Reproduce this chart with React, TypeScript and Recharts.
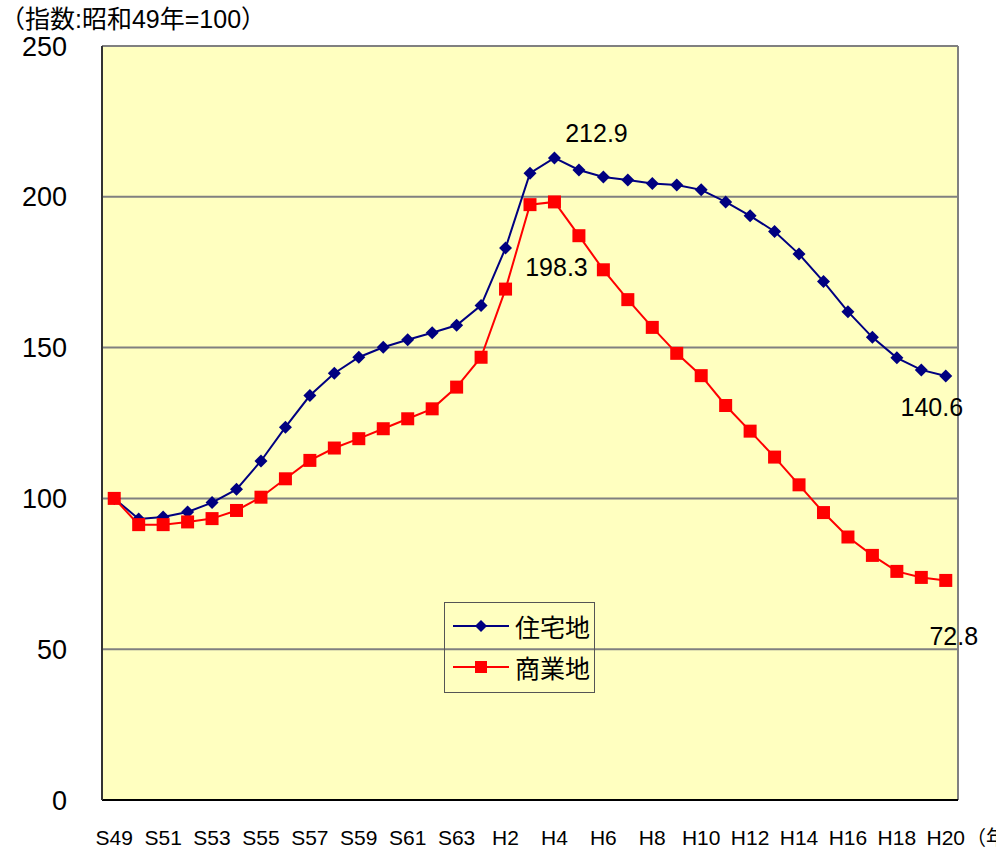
import React from "react";
import {
  CartesianGrid,
  Legend,
  Line,
  LineChart,
  ReferenceLine,
  XAxis,
  YAxis,
} from "recharts";

// 年次（昭和49年〜平成20年）
const years = [
  "S49", "S50", "S51", "S52", "S53", "S54", "S55", "S56", "S57", "S58",
  "S59", "S60", "S61", "S62", "S63", "H1", "H2", "H3", "H4", "H5",
  "H6", "H7", "H8", "H9", "H10", "H11", "H12", "H13", "H14", "H15",
  "H16", "H17", "H18", "H19", "H20",
];

// 住宅地
const residential = [
  100, 93.2, 93.8, 95.5, 98.6, 103.0, 112.4, 123.6, 134.1, 141.5,
  146.8, 150.1, 152.6, 154.9, 157.4, 164.0, 183.0, 207.8, 212.9, 208.9,
  206.6, 205.6, 204.4, 203.9, 202.3, 198.3, 193.7, 188.5, 181.0, 171.9,
  161.9, 153.4, 146.6, 142.6, 140.6,
];

// 商業地
const commercial = [
  100, 91.3, 91.3, 92.2, 93.3, 96.0, 100.4, 106.5, 112.6, 116.7,
  119.8, 123.1, 126.4, 129.7, 136.9, 146.8, 169.4, 197.4, 198.3, 187.1,
  175.8, 165.9, 156.7, 148.1, 140.7, 130.8, 122.3, 113.7, 104.5, 95.3,
  87.2, 81.1, 75.8, 73.8, 72.8,
];

const yTicks = [0, 50, 100, 150, 200, 250];

const data = years.map((year, i) => ({
  i,
  year,
  residential: residential[i],
  commercial: commercial[i],
}));

// labels every other year, tick marks between categories
const labelTicks = years.map((_, i) => i).filter((i) => i % 2 === 0);
const boundaryTicks = years.slice(1).map((_, i) => i + 0.5);

const NAVY = "#000080";
const RED = "#FF0000";
const PLOT_BG = "#FFFFC0";
const GRID = "#808080";
const FONT = "'Liberation Sans', Arial, 'Noto Sans CJK JP', sans-serif";

// where the value callouts sit relative to their point
const CALLOUTS: Record<string, Record<number, [number, number]>> = {
  residential: { 18: [42, -25], 34: [-14, 31] },
  commercial: { 18: [2, 65], 34: [8, 56] },
};

const Diamond = (props: any) => {
  const { cx, cy, index } = props;
  if (cx == null || cy == null) return <g key={`d-${index}`} />;
  const r = 6.5;
  return (
    <path
      key={`d-${index}`}
      d={`M${cx},${cy - r}L${cx + r},${cy}L${cx},${cy + r}L${cx - r},${cy}Z`}
      fill={NAVY}
    />
  );
};

const Square = (props: any) => {
  const { cx, cy, index } = props;
  if (cx == null || cy == null) return <g key={`s-${index}`} />;
  const s = 6.5;
  return (
    <rect
      key={`s-${index}`}
      x={cx - s}
      y={cy - s}
      width={s * 2}
      height={s * 2}
      fill={RED}
    />
  );
};

const callout = (series: string) => (props: any) => {
  const { x, y, value, index } = props;
  const off = CALLOUTS[series][index];
  if (!off) return null;
  return (
    <text
      key={`${series}-lbl-${index}`}
      x={x + off[0]}
      y={y + off[1]}
      textAnchor="middle"
      dominantBaseline="central"
      fontSize={25}
      fontFamily={FONT}
      fill="#000"
    >
      {Number(value).toFixed(1)}
    </text>
  );
};

const EmptyTick = () => <g />;

const LegendBox = (props: any) => {
  const payload = props.payload || [];
  return (
    <div
      style={{
        border: "1px solid #555",
        width: 151,
        height: 91,
        boxSizing: "border-box",
        paddingTop: 2,
        fontFamily: FONT,
      }}
    >
      {payload.map((p: any) => (
        <div
          key={p.value}
          style={{ display: "flex", alignItems: "center", height: 41 }}
        >
          <svg width={66} height={20} style={{ marginLeft: 8 }}>
            <line x1={0} y1={10} x2={56} y2={10} stroke={p.color} strokeWidth={2} />
            {p.dataKey === "residential" ? (
              <path d="M28,4L34,10L28,16L22,10Z" fill={p.color} />
            ) : (
              <rect x={22} y={4} width={12} height={12} fill={p.color} />
            )}
          </svg>
          <span style={{ fontSize: 25, color: "#000", marginLeft: -4 }}>{p.value}</span>
        </div>
      ))}
    </div>
  );
};

export default function App() {
  return (
    <div
      style={{
        position: "absolute",
        left: 0,
        top: 0,
        width: 996,
        height: 849,
        background: "#fff",
        overflow: "hidden",
        fontFamily: FONT,
      }}
    >
      <div
        style={{
          position: "absolute",
          left: 0,
          top: 7,
          fontSize: 25,
          lineHeight: "25px",
          color: "#000",
          whiteSpace: "nowrap",
        }}
      >
        （指数:昭和49年=100）
      </div>
      <div
        style={{
          position: "absolute",
          left: 966,
          top: 822,
          fontSize: 20,
          color: "#000",
          whiteSpace: "nowrap",
        }}
      >
        （年）
      </div>
      <LineChart
        width={996}
        height={849}
        data={data}
        margin={{ top: 46, right: 38, bottom: 0, left: 0 }}
      >
        <CartesianGrid
          horizontal
          vertical={false}
          fill={PLOT_BG}
          stroke={GRID}
          strokeWidth={2}
          horizontalValues={yTicks}
        />
        <XAxis
          xAxisId="marks"
          dataKey="i"
          type="number"
          domain={[-0.5, years.length - 0.5]}
          ticks={boundaryTicks}
          orientation="bottom"
          mirror
          height={0}
          tick={<EmptyTick />}
          tickSize={5}
          tickLine={{ stroke: "#333", strokeWidth: 1 }}
          axisLine={false}
          allowDecimals
        />
        <XAxis
          xAxisId="main"
          dataKey="i"
          type="number"
          domain={[-0.5, years.length - 0.5]}
          ticks={labelTicks}
          tickFormatter={(v: number) => years[v]}
          interval={0}
          height={49}
          tickLine={false}
          tickSize={0}
          tickMargin={30}
          axisLine={{ stroke: "#000", strokeWidth: 2 }}
          tick={{ fontSize: 21, fill: "#000", fontFamily: FONT }}
        />
        <YAxis
          domain={[0, 250]}
          ticks={yTicks}
          interval={0}
          width={102}
          tickLine={false}
          tickSize={0}
          tickMargin={35}
          axisLine={{ stroke: "#333", strokeWidth: 2 }}
          tick={{ fontSize: 27, fill: "#000", fontFamily: FONT }}
        />
        <ReferenceLine
          xAxisId="main"
          x={years.length - 0.5}
          stroke={GRID}
          strokeWidth={2}
        />
        <Legend
          layout="vertical"
          verticalAlign="middle"
          align="center"
          content={<LegendBox />}
          wrapperStyle={{ left: 444, top: 602, width: 151, height: 91 }}
        />
        <Line
          xAxisId="main"
          name="住宅地"
          dataKey="residential"
          stroke={NAVY}
          strokeWidth={2}
          dot={Diamond}
          activeDot={false}
          label={callout("residential")}
          isAnimationActive={false}
        />
        <Line
          xAxisId="main"
          name="商業地"
          dataKey="commercial"
          stroke={RED}
          strokeWidth={2}
          dot={Square}
          activeDot={false}
          label={callout("commercial")}
          isAnimationActive={false}
        />
      </LineChart>
    </div>
  );
}
